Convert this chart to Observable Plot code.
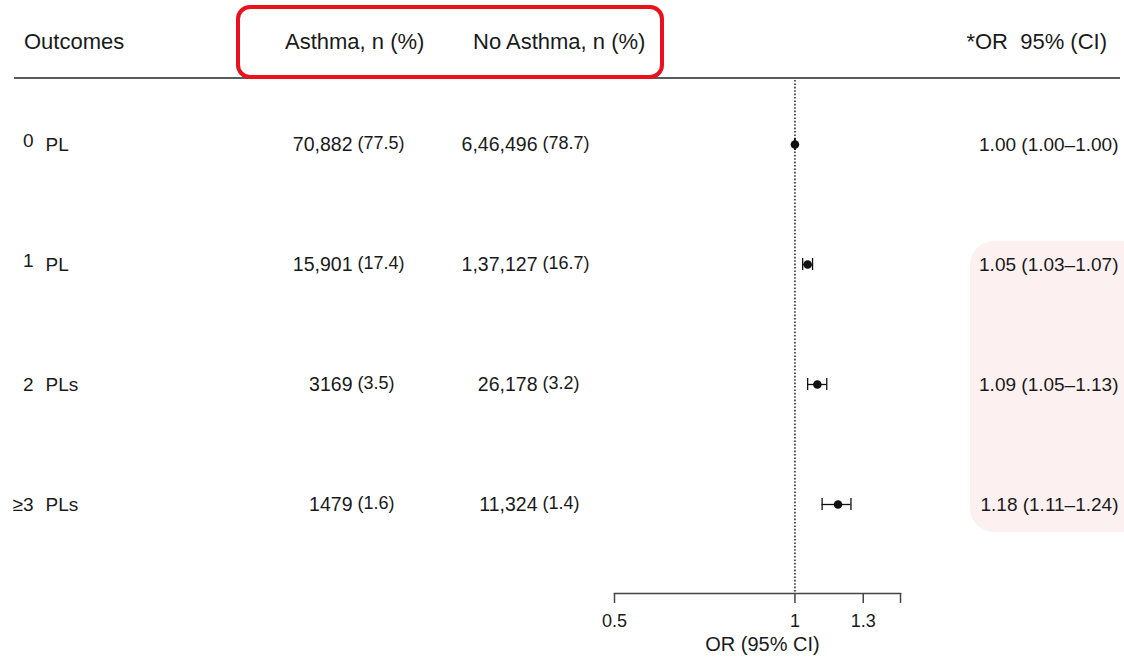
<!DOCTYPE html>
<html>
<head>
<meta charset="utf-8">
<script src="https://cdn.jsdelivr.net/npm/d3@7"></script>
<script src="https://cdn.jsdelivr.net/npm/@observablehq/plot@0.6"></script>
<style>
  body { margin: 0; background: #fff; overflow: hidden; font-family: "Liberation Sans", Arial, sans-serif; color: #1a1a1a; }
  #fig { position: relative; width: 1124px; height: 662px; }
  #head { position: absolute; left: 0; top: 0; width: 1124px; height: 80px; }
  .h { position: absolute; top: 29px; font-size: 22px; line-height: 26px; white-space: pre; }
  .rule { position: absolute; left: 14px; top: 77px; width: 1106px; height: 2px; background: #5a5a5a; }
  .box { position: absolute; left: 236px; top: 5px; width: 428px; height: 74px; box-sizing: border-box;
         border: 4px solid #e8111c; border-radius: 14px; }
  #plot { position: absolute; left: 0; top: 80px; }
</style>
</head>
<body>
<div id="fig">
  <div id="head">
    <span class="h" style="left:24px">Outcomes</span>
    <span class="h" style="left:285px">Asthma, n (%)</span>
    <span class="h" style="left:473px">No Asthma, n (%)</span>
    <span class="h" style="right:17px">*OR&nbsp; 95% (CI)</span>
    <div class="rule"></div>
    <div class="box"></div>
  </div>
  <div id="plot"></div>
</div>
<script>
// Outcome rows: count of pregnancy losses
const outcomes = ["0 PL", "1 PL", "2 PLs", "≥3 PLs"];
const outcomeCount = ["0", "1", "2", "≥3"];
const outcomeUnit = ["PL", "PL", "PLs", "PLs"];

// Women with asthma
const asthmaN = [70882, 15901, 3169, 1479];
const asthmaPct = [77.5, 17.4, 3.5, 1.6];

// Women without asthma
const noAsthmaN = [646496, 137127, 26178, 11324];
const noAsthmaPct = [78.7, 16.7, 3.2, 1.4];

// Adjusted odds ratios with 95% confidence intervals
const orValue = [1.00, 1.05, 1.09, 1.18];
const orLow = [1.00, 1.03, 1.05, 1.11];
const orHigh = [1.00, 1.07, 1.13, 1.24];

// OR axis ticks
const orTicks = [0.5, 1, 1.3, 1.5];
const orTickLabels = ["0.5", "1", "1.3", ""];

// Indian digit grouping (e.g. 6,46,496); four-digit counts stay ungrouped
function fmtCount(n) {
  const s = String(n);
  if (s.length <= 4) return s;
  const last3 = s.slice(-3);
  let rest = s.slice(0, -3);
  const parts = [];
  while (rest.length > 2) { parts.unshift(rest.slice(-2)); rest = rest.slice(0, -2); }
  if (rest) parts.unshift(rest);
  return parts.join(",") + "," + last3;
}

const rows = outcomes.map((o, i) => ({
  outcome: o,
  count: outcomeCount[i],
  unit: outcomeUnit[i],
  aN: fmtCount(asthmaN[i]),
  aP: `(${asthmaPct[i].toFixed(1)})`,
  nN: fmtCount(noAsthmaN[i]),
  nP: `(${noAsthmaPct[i].toFixed(1)})`,
  or: orValue[i],
  lo: orLow[i],
  hi: orHigh[i],
  orText: `${orValue[i].toFixed(2)} (${orLow[i].toFixed(2)}–${orHigh[i].toFixed(2)})`
}));

// Rows whose interval lies entirely above 1 get a highlight band
const sig = rows.filter(d => d.lo > 1);
const band = sig.length ? [{first: sig[0].outcome, last: sig[sig.length - 1].outcome}] : [];

const ML = 614; // left edge of the OR panel
const MR = 224;
const W = 1124;
const colX = x => x - ML;          // offset from panel left edge
const colXR = x => x - (W - MR);   // offset from panel right edge

const chart = Plot.plot({
  width: W,
  height: 582,
  marginLeft: ML,
  marginRight: MR,
  marginTop: 0,
  marginBottom: 69,
  style: {
    fontFamily: "'Liberation Sans', Arial, sans-serif",
    fontSize: "19px",
    color: "#1a1a1a",
    background: "transparent",
    overflow: "visible"
  },
  x: {type: "log", domain: [0.5, 1.5]},
  // narrow bands: the band height sets the CI cap length
  y: {type: "band", domain: outcomes, paddingInner: 0.9008, paddingOuter: 0.4628, insetBottom: 26, axis: null},
  marks: [
    // highlight band behind significant ORs
    Plot.rect(band, {
      y1: "first", y2: "last", fill: "#fdf0f0", rx: 24,
      insetLeft: 356, insetRight: -260, insetTop: -17, insetBottom: -22
    }),
    // outcome labels
    Plot.text(rows, {filter: (d, i) => i < 2, y: "outcome", text: "count", frameAnchor: "left",
      dx: colX(33), dy: -4, textAnchor: "end", fontSize: 19}),
    Plot.text(rows, {filter: (d, i) => i >= 2, y: "outcome", text: "count", frameAnchor: "left",
      dx: colX(33), textAnchor: "end", fontSize: 19}),
    Plot.text(rows, {y: "outcome", text: "unit", frameAnchor: "left",
      dx: colX(45), textAnchor: "start", fontSize: 19}),
    // asthma counts
    Plot.text(rows, {y: "outcome", text: "aN", frameAnchor: "left",
      dx: colX(352), textAnchor: "end", fontSize: 19.5}),
    Plot.text(rows, {y: "outcome", text: "aP", frameAnchor: "left",
      dx: colX(357), dy: -1, textAnchor: "start", fontSize: 18}),
    // no-asthma counts
    Plot.text(rows, {y: "outcome", text: "nN", frameAnchor: "left",
      dx: colX(537), textAnchor: "end", fontSize: 19.5}),
    Plot.text(rows, {y: "outcome", text: "nP", frameAnchor: "left",
      dx: colX(542), dy: -1, textAnchor: "start", fontSize: 18}),
    // OR (95% CI) column
    Plot.text(rows, {y: "outcome", text: "orText", frameAnchor: "right",
      dx: colXR(1118), textAnchor: "end", fontSize: 19}),
    // reference line at OR = 1
    Plot.ruleX([1], {stroke: "#222", strokeWidth: 1.5, strokeDasharray: "1.6,1.8"}),
    // confidence intervals
    Plot.ruleY(rows, {y: "outcome", x1: "lo", x2: "hi", stroke: "#111", strokeWidth: 1.3}),
    Plot.tickX(rows, {y: "outcome", x: "lo", stroke: "#111", strokeWidth: 1.3}),
    Plot.tickX(rows, {y: "outcome", x: "hi", stroke: "#111", strokeWidth: 1.3}),
    Plot.dot(rows, {y: "outcome", x: "or", r: 4.3, fill: "#111", stroke: "none"}),
    // OR axis
    Plot.frame({anchor: "bottom", stroke: "#444", strokeWidth: 1.5}),
    Plot.axisX(orTicks, {
      tickFormat: d => orTickLabels[orTicks.indexOf(d)],
      tickSize: 10, tickPadding: 11, fontSize: 18, stroke: "#444", strokeWidth: 1.5, label: null
    }),
    Plot.text(["OR (95% CI)"], {frameAnchor: "bottom", dx: 5, dy: 57, fontSize: 20})
  ]
});

document.getElementById("plot").appendChild(chart);
</script>
</body>
</html>
